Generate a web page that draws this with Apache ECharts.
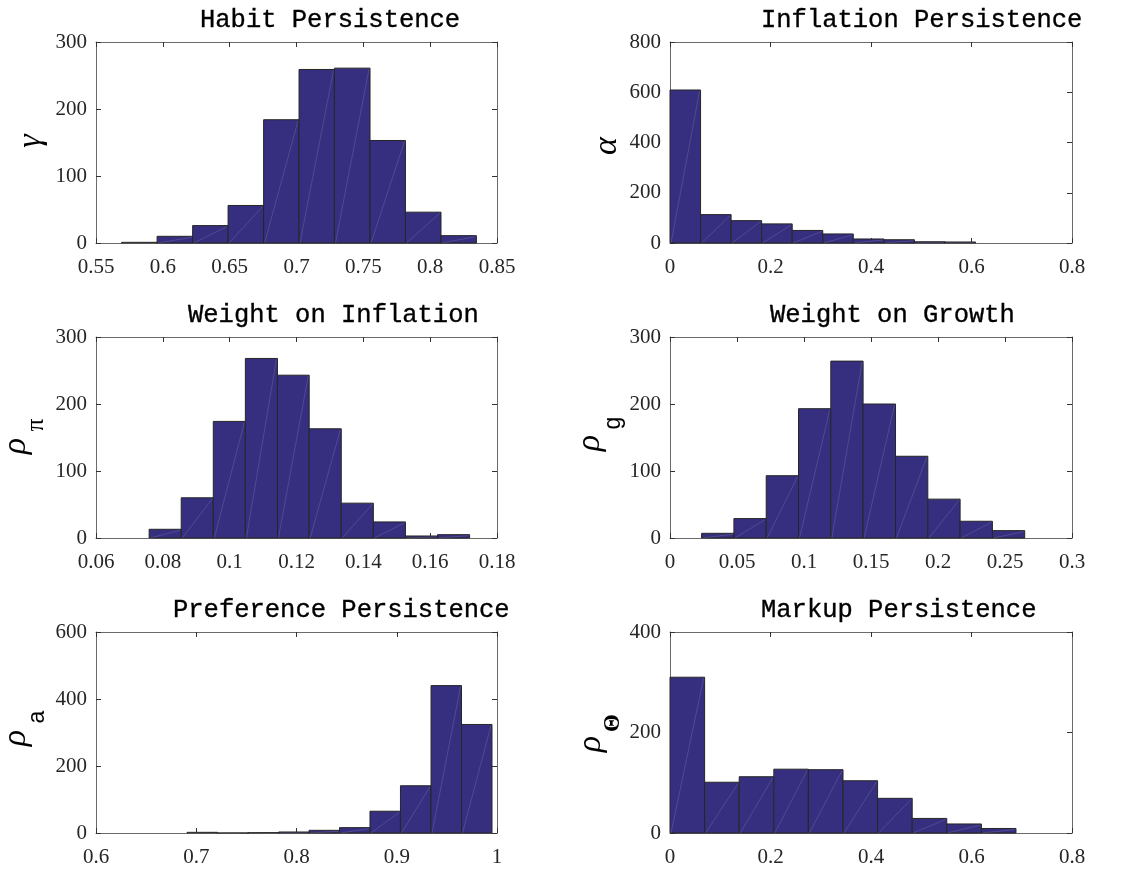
<!DOCTYPE html>
<html>
<head>
<meta charset="utf-8">
<script src="https://cdn.jsdelivr.net/npm/echarts@6/dist/echarts.min.js"></script>
<style>
  html, body { margin: 0; padding: 0; background: #fff; }
  #chart { width: 1142px; height: 874px; }
</style>
</head>
<body>
<div id="chart"></div>
<script>
// ---- Data (bin edges and counts per panel) ----
const titles = ['Habit Persistence', 'Inflation Persistence', 'Weight on Inflation', 'Weight on Growth', 'Preference Persistence', 'Markup Persistence'];

const habitEdges  = [0.5692, 0.5957, 0.6223, 0.6488, 0.6754, 0.7019, 0.7284, 0.7550, 0.7815, 0.8081, 0.8346];
const habitCounts = [1, 10, 26, 56, 184, 259, 261, 153, 46, 11];

const inflPersEdges  = [0.0000, 0.0608, 0.1216, 0.1824, 0.2432, 0.3040, 0.3648, 0.4256, 0.4864, 0.5472, 0.6080];
const inflPersCounts = [609, 113, 89, 76, 50, 36, 16, 13, 5, 4];

const wInflEdges  = [0.0759, 0.0855, 0.0951, 0.1047, 0.1143, 0.1238, 0.1334, 0.1430, 0.1526, 0.1622, 0.1718];
const wInflCounts = [13, 60, 174, 268, 243, 163, 52, 24, 3, 5];

const wGrowEdges  = [0.0236, 0.0477, 0.0718, 0.0959, 0.1200, 0.1441, 0.1683, 0.1924, 0.2165, 0.2406, 0.2647];
const wGrowCounts = [7, 29, 93, 193, 264, 200, 122, 58, 25, 11];

const prefEdges  = [0.6908, 0.7212, 0.7516, 0.7821, 0.8125, 0.8429, 0.8733, 0.9037, 0.9342, 0.9646, 0.9950];
const prefCounts = [2, 0, 1, 3, 8, 16, 65, 141, 440, 324];

const markupEdges  = [0.0000, 0.0689, 0.1377, 0.2066, 0.2754, 0.3443, 0.4131, 0.4820, 0.5508, 0.6197, 0.6885];
const markupCounts = [310, 101, 112, 127, 126, 104, 69, 29, 18, 9];

// axis ranges
const xMin  = [0.55, 0, 0.06, 0, 0.6, 0];
const xMax  = [0.85, 0.8, 0.18, 0.3, 1, 0.8];
const xStep = [0.05, 0.2, 0.02, 0.05, 0.1, 0.2];
const yMax  = [300, 800, 300, 300, 600, 400];
const yStep = [100, 200, 100, 100, 200, 200];

const panelEdges  = [habitEdges, inflPersEdges, wInflEdges, wGrowEdges, prefEdges, markupEdges];
const panelCounts = [habitCounts, inflPersCounts, wInflCounts, wGrowCounts, prefCounts, markupCounts];

// ---- Layout ----
const gridPos = [
  {left: 96,  top: 42,  width: 401, height: 201},
  {left: 670, top: 42,  width: 402, height: 201},
  {left: 96,  top: 337, width: 401, height: 201},
  {left: 670, top: 337, width: 402, height: 201},
  {left: 96,  top: 632, width: 401, height: 201},
  {left: 670, top: 632, width: 402, height: 201}
];
const titleLeft = [200, 761, 188, 770, 173, 761];
const titleTop  = [7, 7, 302, 302, 597, 597];

const FILL = '#362F80';
const EDGE = '#262626';
const AXC = '#6a6a6a';
const TXT = '#262626';

const fmt = v => String(+(+v).toFixed(4));

const grids = [], xAxes = [], yAxes = [], series = [], titleArr = [];
gridPos.forEach((g, i) => {
  grids.push(Object.assign({containLabel: false}, g));
  const common = {min: xMin[i], max: xMax[i], interval: xStep[i]};
  xAxes.push(Object.assign({type: 'value', gridIndex: i, position: 'bottom',
    axisLine: {show: true, onZero: false, lineStyle: {color: AXC, width: 1}},
    axisTick: {show: true, inside: true, length: 5, lineStyle: {color: '#333'}},
    axisLabel: {show: true, margin: 14, color: TXT, fontFamily: 'Liberation Serif', fontSize: 21, formatter: fmt},
    splitLine: {show: false}}, common));
  xAxes.push(Object.assign({type: 'value', gridIndex: i, position: 'top',
    axisLine: {show: true, onZero: false, lineStyle: {color: AXC, width: 1}},
    axisTick: {show: true, inside: true, length: 5, lineStyle: {color: '#333'}},
    axisLabel: {show: false}, splitLine: {show: false}}, common));
  const yc = {min: 0, max: yMax[i], interval: yStep[i]};
  yAxes.push(Object.assign({type: 'value', gridIndex: i, position: 'left',
    axisLine: {show: true, onZero: false, lineStyle: {color: AXC, width: 1}},
    axisTick: {show: true, inside: true, length: 5, lineStyle: {color: '#333'}},
    axisLabel: {show: true, margin: 9, color: TXT, fontFamily: 'Liberation Serif', fontSize: 21},
    splitLine: {show: false}}, yc));
  yAxes.push(Object.assign({type: 'value', gridIndex: i, position: 'right',
    axisLine: {show: true, onZero: false, lineStyle: {color: AXC, width: 1}},
    axisTick: {show: true, inside: true, length: 5, lineStyle: {color: '#333'}},
    axisLabel: {show: false}, splitLine: {show: false}}, yc));

  const edges = panelEdges[i];
  const data = panelCounts[i].map((c, k) => [edges[k], edges[k + 1], c]);
  series.push({
    type: 'custom', xAxisIndex: 2 * i, yAxisIndex: 2 * i,
    encode: {x: [0, 1], y: 2},
    data: data,
    renderItem: function (params, api) {
      const p0 = api.coord([api.value(0), 0]);
      const p1 = api.coord([api.value(1), api.value(2)]);
      return {type: 'group', children: [
        {type: 'rect', shape: {x: p0[0], y: p1[1], width: p1[0] - p0[0], height: p0[1] - p1[1]},
         style: {fill: FILL, stroke: EDGE, lineWidth: 1}},
        {type: 'line', shape: {x1: p0[0] + 1, y1: p0[1], x2: p1[0] - 1, y2: p1[1] + 1},
         style: {stroke: 'rgba(255,255,255,0.16)', lineWidth: 0.8}}
      ]};
    }
  });

  titleArr.push({text: titles[i], left: titleLeft[i], top: titleTop[i], padding: 0,
    textStyle: {fontFamily: 'Liberation Mono', fontSize: 25.5, fontWeight: 'normal', color: '#000',
      textBorderColor: '#000', textBorderWidth: 0.35}});
});

// ---- Y-axis labels (Greek symbols, rotated) ----
const R = Math.PI / 2;
function sym(text, x, y, size, family, style, weight) {
  return {type: 'text', x: x, y: y, rotation: R,
    style: {text: text, fill: '#000', font: (style || 'normal') + ' ' + (weight || 'normal') + ' ' + size + 'px "' + family + '"',
      textAlign: 'center', textVerticalAlign: 'middle'}};
}
const graphics = [
  sym('γ', 31, 141, 34, 'Liberation Serif', 'italic'),
  sym('α', 607, 146, 34, 'Liberation Serif', 'italic'),
  sym('ρ', 16, 446, 34, 'Liberation Serif', 'italic'),
  sym('π', 36, 425, 25, 'Liberation Serif'),
  sym('ρ', 590, 443, 34, 'Liberation Serif', 'italic'),
  sym('g', 614, 423, 23, 'Liberation Sans'),
  sym('ρ', 16, 738, 34, 'Liberation Serif', 'italic'),
  sym('a', 38, 717, 23, 'Liberation Sans'),
  sym('ρ', 591, 744, 34, 'Liberation Serif', 'italic'),
  sym('Θ', 613, 723, 23, 'Liberation Serif', 'normal', 'bold')
];

const chart = echarts.init(document.getElementById('chart'), null, {renderer: 'canvas'});
chart.setOption({
  animation: false,
  backgroundColor: '#fff',
  title: titleArr,
  grid: grids,
  xAxis: xAxes,
  yAxis: yAxes,
  series: series,
  graphic: graphics
});
</script>
</body>
</html>
